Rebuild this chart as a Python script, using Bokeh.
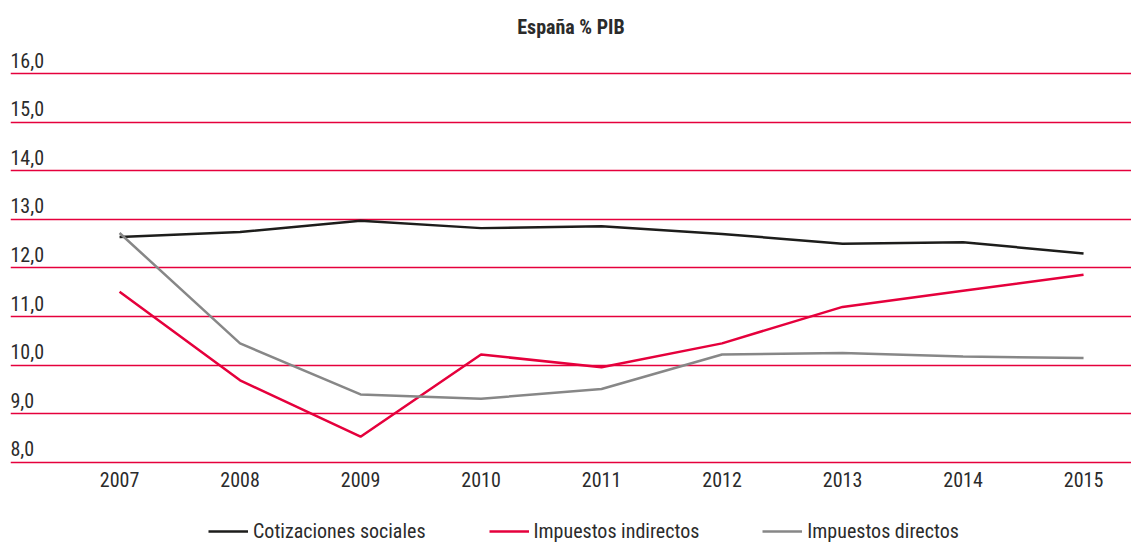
from bokeh.plotting import figure
from bokeh.models import FixedTicker, Range1d, ColumnDataSource
from bokeh.core.properties import value
from bokeh.embed import file_html
from bokeh.resources import INLINE

years = [2007, 2008, 2009, 2010, 2011, 2012, 2013, 2014, 2015]
cotizaciones = [12.64, 12.74, 12.97, 12.82, 12.86, 12.70, 12.50, 12.53, 12.30]
indirectos = [11.51, 9.69, 8.53, 10.22, 9.96, 10.45, 11.20, 11.53, 11.86]
directos = [12.72, 10.45, 9.40, 9.31, 9.51, 10.22, 10.25, 10.18, 10.15]
y_ticks = [8, 9, 10, 11, 12, 13, 14, 15, 16]
y_labels = ["8,0", "9,0", "10,0", "11,0", "12,0", "13,0", "14,0", "15,0", "16,0"]

FONT = "Roboto Condensed"
RED = "#E5003C"
TXT = "#2b2b2b"
X0 = 2006.095

p = figure(width=1131, height=543, output_backend="svg", toolbar_location=None,
           x_range=Range1d(X0, 2015.398), y_range=Range1d(6.334, 16.617),
           min_border_left=10, min_border_right=0, min_border_top=43, min_border_bottom=0)
p.outline_line_color = None

p.title.text = "España % PIB"
p.title.text_font = FONT
p.title.text_font_size = "20px"
p.title.text_font_style = "bold"
p.title.text_color = TXT
p.title.align = "center"

p.yaxis.visible = False
p.xgrid.visible = False
p.ygrid.ticker = FixedTicker(ticks=y_ticks)
p.ygrid.grid_line_color = RED
p.ygrid.grid_line_width = 1.5

p.xaxis.ticker = FixedTicker(ticks=years)
p.xaxis.fixed_location = 8
p.xaxis.axis_line_color = None
p.xaxis.major_tick_line_color = None
p.xaxis.minor_tick_line_color = None
p.xaxis.major_label_text_font = FONT
p.xaxis.major_label_text_font_size = "20px"
p.xaxis.major_label_text_color = TXT
p.xaxis.major_label_standoff = 4

src = ColumnDataSource(dict(x=[X0] * len(y_ticks), y=y_ticks, t=y_labels))
p.text(x="x", y="y", text="t", source=src, text_font=value(FONT), text_font_size="20px",
       text_color=TXT, text_baseline="bottom", text_align="left", y_offset=-6)

p.line(years, cotizaciones, line_color="#1d1d1b", line_width=2.5, legend_label="Cotizaciones sociales")
p.line(years, indirectos, line_color=RED, line_width=2.5, legend_label="Impuestos indirectos")
p.line(years, directos, line_color="#878787", line_width=2.5, legend_label="Impuestos directos")

lg = p.legend[0]
lg.orientation = "horizontal"
lg.location = (198, 0)
lg.margin = 0
lg.padding = 0
lg.label_text_font = FONT
lg.label_text_font_size = "20px"
lg.label_text_color = TXT
lg.glyph_width = 40
lg.label_standoff = 5
lg.spacing = 63
lg.border_line_color = None
lg.background_fill_alpha = 0

open("out.html", "w").write(file_html(p, INLINE))
